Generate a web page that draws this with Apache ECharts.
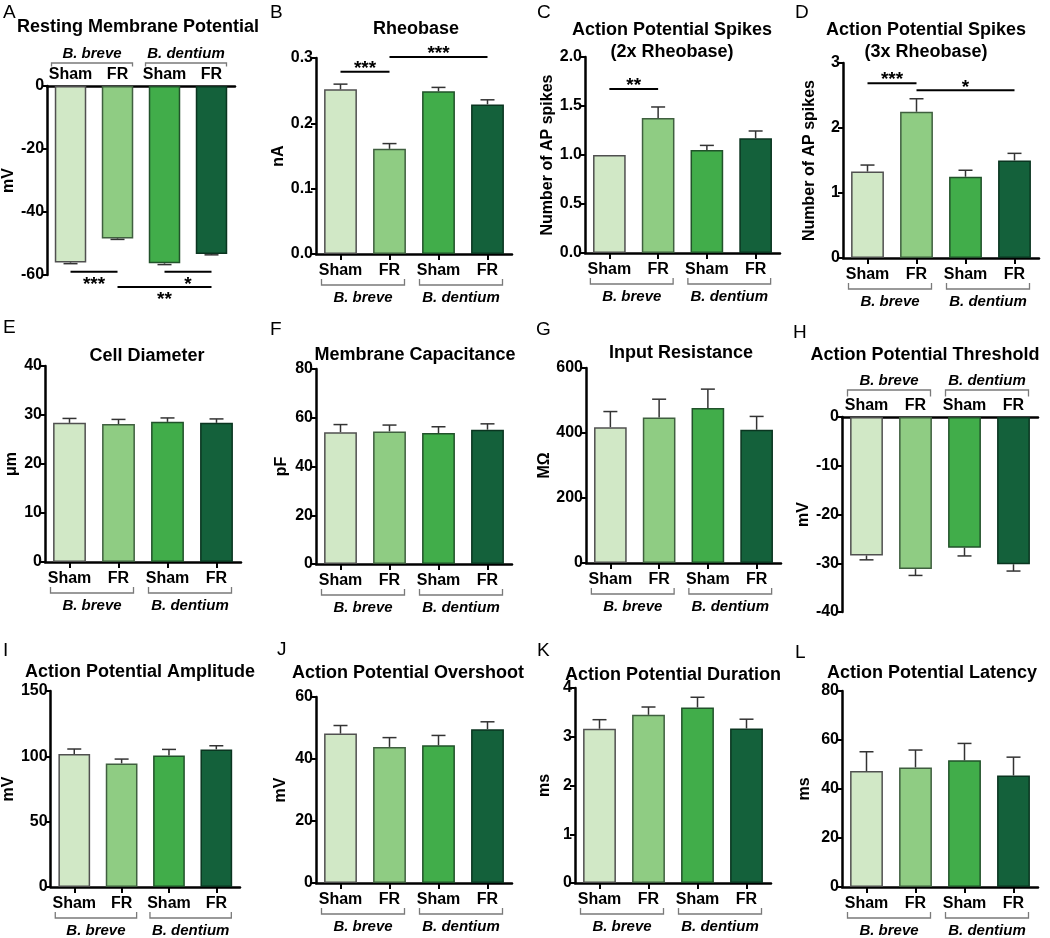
<!DOCTYPE html>
<html><head><meta charset="utf-8">
<script src="https://cdn.jsdelivr.net/npm/echarts@6/dist/echarts.min.js"></script>
<style>html,body{margin:0;padding:0;background:#fff}#c{width:1050px;height:938px}</style>
</head><body><div id="c"></div>
<script>
// ---------------- DATA ----------------
const categories = ['Sham', 'FR', 'Sham', 'FR'];
const groupNames = ['B. breve', 'B. dentium'];

const restingMean = [-56.0, -48.4, -56.3, -53.3];
const restingErr = [0.4, 0.3, 0.4, 0.3];
const rheobaseMean = [0.252, 0.161, 0.249, 0.229];
const rheobaseErr = [0.008, 0.008, 0.006, 0.007];
const spikes2xMean = [1.0, 1.378, 1.052, 1.17];
const spikes2xErr = [0, 0.112, 0.046, 0.075];
const spikes3xMean = [1.33, 2.25, 1.25, 1.50];
const spikes3xErr = [0.10, 0.20, 0.10, 0.11];
const diameterMean = [28.4, 28.15, 28.6, 28.4];
const diameterErr = [0.9, 0.95, 0.8, 0.8];
const capacitanceMean = [54.1, 54.4, 53.7, 55.1];
const capacitanceErr = [3.1, 2.6, 2.6, 2.4];
const resistanceMean = [418, 448, 477, 410];
const resistanceErr = [48, 56, 58, 41];
const thresholdMean = [-28.4, -31.2, -26.8, -30.2];
const thresholdErr = [0.9, 1.3, 1.7, 1.4];
const amplitudeMean = [101.7, 94.6, 100.7, 105.3];
const amplitudeErr = [3.9, 3.3, 4.6, 2.8];
const overshootMean = [48.2, 43.9, 44.4, 49.6];
const overshootErr = [2.6, 3.0, 3.2, 2.4];
const durationMean = [3.165, 3.45, 3.60, 3.17];
const durationErr = [0.185, 0.16, 0.21, 0.19];
const latencyMean = [47.3, 48.8, 51.7, 45.5];
const latencyErr = [7.9, 7.1, 6.9, 7.5];

// significance comparisons: [fromCategory, toCategory, lineValue, label]
const sigA = [[0, 1, -59.0, '***'], [2, 3, -59.0, '*'], [1, 3, -63.8, '**']];
const sigB = [[0, 1, 0.279, '***'], [1, 3, 0.3017, '***']];
const sigC = [[0, 1, 1.673, '**']];
const sigD = [[0, 1, 2.69, '***'], [1, 3, 2.58, '*']];

// ---------------- STYLE / LAYOUT ----------------
const FONT = '"Liberation Sans", Arial, Helvetica, sans-serif';
const fills = ['#d1e8c6', '#8fcc83', '#41ad4a', '#14613b'];
const borders = ['#505050', '#3f5f3f', '#21522a', '#0a3520'];

const panels = [
  {letter:'A', title:['Resting Membrane Potential'], tx:138, ty:27, lx:3, ly:3, grid:[43,86,192,189], min:-60, max:0, interval:20, dec:0, yName:'mV', gap:25, flip:true, brk:[-23,-19.5,-32], mean:restingMean, err:restingErr, sig:sigA},
  {letter:'B', title:['Rheobase'], tx:416, ty:29, lx:270, ly:3, grid:[316,58,196,196], min:0, max:0.3, interval:0.1, dec:1, yName:'nA', gap:26, mean:rheobaseMean, err:rheobaseErr, sig:sigB},
  {letter:'C', title:['Action Potential Spikes','(2x Rheobase)'], tx:672, ty:30, lx:537, ly:3, grid:[585,57,195,196], min:0, max:2, interval:0.5, dec:1, yName:'Number of AP spikes', gap:29, mean:spikes2xMean, err:spikes2xErr, sig:sigC},
  {letter:'D', title:['Action Potential Spikes','(3x Rheobase)'], tx:926, ty:30, lx:795, ly:3, grid:[843,63,196,195], min:0, max:3, interval:1, dec:0, yName:'Number of AP spikes', gap:25, mean:spikes3xMean, err:spikes3xErr, sig:sigD},
  {letter:'E', title:['Cell Diameter'], tx:147, ty:356, lx:3, ly:318, grid:[45,366,196,196], min:0, max:40, interval:10, dec:0, yName:'μm', gap:25, mean:diameterMean, err:diameterErr},
  {letter:'F', title:['Membrane Capacitance'], tx:415, ty:355, lx:270, ly:320, grid:[316,369,196,195], min:0, max:80, interval:20, dec:0, yName:'pF', gap:26, mean:capacitanceMean, err:capacitanceErr},
  {letter:'G', title:['Input Resistance'], tx:681, ty:353, lx:536, ly:320, grid:[586,368,195,195], min:0, max:600, interval:200, dec:0, yName:'MΩ', gap:31, mean:resistanceMean, err:resistanceErr},
  {letter:'H', title:['Action Potential Threshold'], tx:925, ty:355, lx:793, ly:323, grid:[842,417,196,195], min:-40, max:0, interval:10, dec:0, yName:'mV', gap:29, flip:true, brk:[-27,-20.5,-36], mean:thresholdMean, err:thresholdErr},
  {letter:'I', title:['Action Potential Amplitude'], tx:140, ty:672, lx:3, ly:641, grid:[45,691,195,196], min:0, max:150, interval:50, dec:0, yName:'mV', gap:25, mean:amplitudeMean, err:amplitudeErr},
  {letter:'J', title:['Action Potential Overshoot'], tx:408, ty:673, lx:277, ly:640, grid:[316,697,196,186], min:0, max:60, interval:20, dec:0, yName:'mV', gap:27, mean:overshootMean, err:overshootErr},
  {letter:'K', title:['Action Potential Duration'], tx:673, ty:675, lx:537, ly:641, grid:[575,688,196,195], min:0, max:4, interval:1, dec:0, yName:'ms', gap:22, mean:durationMean, err:durationErr},
  {letter:'L', title:['Action Potential Latency'], tx:932, ty:673, lx:795, ly:643, grid:[842,691,196,196], min:0, max:80, interval:20, dec:0, yName:'ms', gap:29, mean:latencyMean, err:latencyErr}
];

function errRender(params, api) {
  const k = api.value(0), m = api.value(1), e = api.value(2);
  if (!e) return null;
  const end = m < 0 ? m - e : m + e;
  const p0 = api.coord([k, m]), p1 = api.coord([k, end]);
  const hw = 7;
  const st = {stroke: '#333', lineWidth: 1.5};
  return {type: 'group', children: [
    {type: 'line', shape: {x1: p0[0], y1: p0[1], x2: p1[0], y2: p1[1]}, style: st},
    {type: 'line', shape: {x1: p1[0] - hw, y1: p1[1], x2: p1[0] + hw, y2: p1[1]}, style: st}
  ]};
}

const chart = echarts.init(document.getElementById('c'), null, {renderer: 'canvas'});
const grids = [], xAxes = [], yAxes = [], series = [];
panels.forEach((p, i) => {
  grids.push({left: p.grid[0], top: p.grid[1], width: p.grid[2], height: p.grid[3]});
  xAxes.push({
    type: 'category', gridIndex: i, data: categories, position: p.flip ? 'top' : 'bottom',
    axisLine: {onZero: false, lineStyle: {color: '#000', width: 2.5}},
    axisTick: {show: !p.flip, alignWithLabel: true, length: 6, lineStyle: {color: '#000', width: 2}},
    axisLabel: {color: '#000', fontFamily: FONT, fontWeight: 'bold', fontSize: 16, margin: p.flip ? 3 : 9, interval: 0},
    splitLine: {show: false}
  });
  yAxes.push({
    type: 'value', gridIndex: i, min: p.min, max: p.max, interval: p.interval,
    name: p.yName, nameLocation: 'middle', nameGap: p.gap, nameRotate: 90,
    nameTextStyle: {color: '#000', fontFamily: FONT, fontWeight: 'bold', fontSize: 16},
    axisLine: {show: true, lineStyle: {color: '#000', width: 2.5}},
    axisTick: {show: true, length: 5, lineStyle: {color: '#000', width: 2}},
    axisLabel: {color: '#000', fontFamily: FONT, fontWeight: 'bold', fontSize: 16, margin: 3,
      formatter: v => Number(v).toFixed(p.dec)},
    splitLine: {show: false}
  });
  series.push({
    type: 'bar', xAxisIndex: i, yAxisIndex: i, barWidth: '67%', silent: true,
    data: p.mean.map((v, k) => ({value: v, itemStyle: {color: fills[k], borderColor: borders[k], borderWidth: 1.5}}))
  });
  series.push({
    type: 'custom', xAxisIndex: i, yAxisIndex: i, z: 5, silent: true,
    encode: {x: 0, y: 1},
    data: p.mean.map((v, k) => [k, v, p.err[k]]),
    renderItem: errRender
  });
});

chart.setOption({
  animation: false,
  backgroundColor: '#fff',
  grid: grids, xAxis: xAxes, yAxis: yAxes, series: series
});

// ---------------- ANNOTATIONS ----------------
const g = [];
const txt = (x, y, text, size, weight, style) => g.push({
  type: 'text', x: x, y: y, silent: true,
  style: {text: text, fill: '#000', fontFamily: FONT, fontSize: size, fontWeight: weight, fontStyle: style || 'normal', align: 'center', verticalAlign: 'middle'}
});

panels.forEach((p, i) => {
  g.push({type: 'text', x: p.lx, y: p.ly, silent: true,
    style: {text: p.letter, fill: '#000', fontFamily: FONT, fontSize: 19, fontWeight: 'normal', align: 'left', verticalAlign: 'top'}});
  p.title.forEach((t, j) => txt(p.tx, p.ty + j * 22, t, 18, 'bold'));
  const cx = categories.map((c, k) => chart.convertToPixel({gridIndex: i}, [k, p.flip ? p.max : p.min])[0]);
  const base = chart.convertToPixel({gridIndex: i}, [0, p.flip ? p.max : p.min])[1];
  const off = p.flip ? p.brk : [31, 25, 44];
  [[0, 1], [2, 3]].forEach((pair, gi) => {
    const x1 = cx[pair[0]] - 19, x2 = cx[pair[1]] + 15;
    const yb = base + off[0], yt = base + off[1];
    g.push({type: 'polyline', silent: true, shape: {points: [[x1, yt], [x1, yb], [x2, yb], [x2, yt]]},
      style: {stroke: '#7a7a7a', lineWidth: 1.3, fill: null}});
    txt((x1 + x2) / 2, base + off[2], groupNames[gi], 15, 'bold', 'italic');
  });
  (p.sig || []).forEach(s => {
    const a = chart.convertToPixel({gridIndex: i}, [s[0], s[2]]);
    const b = chart.convertToPixel({gridIndex: i}, [s[1], s[2]]);
    g.push({type: 'line', silent: true, shape: {x1: a[0], y1: a[1], x2: b[0], y2: b[1]},
      style: {stroke: '#000', lineWidth: 2}});
    const ty = p.flip ? a[1] + 13 : a[1] - 3;
    txt((a[0] + b[0]) / 2, ty, s[3], 19, 'bold');
  });
});
chart.setOption({graphic: g});
</script>
</body></html>
